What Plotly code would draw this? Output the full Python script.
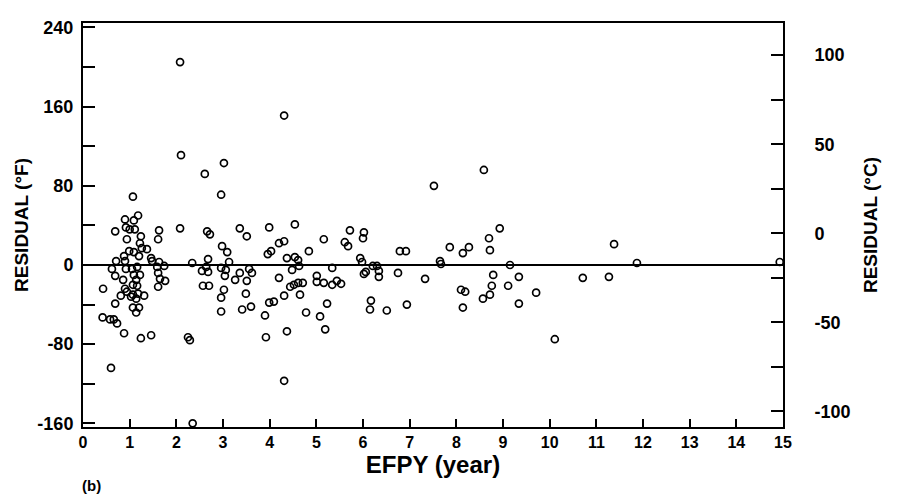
import plotly.graph_objects as go

# EFPY (year) and residual (deg F)
efpy = [
    2.10, 2.61, 1.07, 1.18, 0.90, 1.09, 0.69, 0.92, 1.00, 1.11, 1.63, 2.08, 2.66, 2.72,
    1.24, 0.94, 1.61, 1.22, 1.26, 1.37, 0.99, 1.09, 1.20, 0.88, 1.46, 1.48, 0.71, 0.90,
    1.63, 2.34, 2.68, 0.62, 0.92, 1.05, 1.16, 1.74, 1.59, 2.55, 2.68, 2.64, 0.69, 1.09,
    1.22, 1.61, 0.86, 1.14, 1.65, 1.76, 0.43, 1.07, 1.16, 0.90, 1.61, 2.57, 2.70, 0.94,
    1.07, 0.81, 1.18, 1.31, 1.03, 1.14, 0.69, 1.07, 1.20, 1.14, 0.42, 0.58, 0.66, 0.73,
    0.88, 1.24, 1.46, 2.25, 2.29, 0.60,
    4.31, 3.02, 2.96, 3.36, 3.51, 3.99, 4.54, 2.98, 3.09, 3.96, 4.03, 4.20, 4.31, 5.16,
    4.84, 5.61, 5.68, 5.72, 4.37, 4.54, 4.61, 5.94, 5.98, 3.13, 2.96, 3.06, 3.56, 4.63,
    4.48, 5.34, 3.04, 3.36, 3.62, 3.26, 3.51, 4.20, 5.01, 5.01, 5.16, 5.34, 5.44, 5.53,
    4.61, 4.71, 4.52, 4.44, 3.02, 2.96, 3.49, 4.31, 4.65, 2.96, 3.41, 3.60, 3.99, 4.09,
    4.78, 5.23, 3.90, 5.08, 5.19, 3.92, 4.37, 4.31, 2.08, 2.35,
    8.59, 7.52, 6.02, 6.00, 8.93, 6.79, 6.92, 7.86, 8.27, 8.14, 8.70, 8.72, 7.65, 7.67,
    6.21, 6.30, 6.34, 6.06, 6.02, 6.34, 6.75, 7.33, 8.79, 8.76, 8.10, 8.19, 8.72, 8.57,
    6.17, 6.15, 6.51, 6.94, 8.14,
    11.38, 11.87, 9.15, 9.34, 10.71, 11.27, 9.11, 9.71, 9.34, 10.11, 14.93,
]
residual_f = [
    111, 92, 69, 50, 46, 45, 34, 38, 36, 36, 35, 37, 34, 31,
    29, 26, 26, 22, 17, 16, 14, 13, 9, 9, 7, 4, 4, 4,
    3, 2, 6, -4, -4, -4, -2, -1, -2, -6, -7, -2, -11, -10,
    -10, -8, -15, -15, -14, -16, -24, -20, -21, -24, -22, -21, -21, -27,
    -30, -31, -29, -31, -32, -34, -39, -43, -43, -48, -53, -55, -55, -59,
    -69, -74, -71, -73, -76, -104,
    151, 103, 71, 37, 29, 38, 41, 19, 13, 11, 14, 22, 24, 26,
    14, 23, 19, 35, 7, 8, 5, 7, 3, 3, -3, -5, -4, -1,
    -5, -3, -11, -8, -8, -15, -16, -13, -11, -17, -18, -20, -16, -19,
    -18, -18, -20, -22, -25, -33, -29, -31, -30, -47, -45, -42, -38, -37,
    -48, -39, -51, -52, -65, -73, -67, -117, 205, -160,
    96, 80, 33, 27, 37, 14, 14, 18, 18, 12, 27, 15, 4, 1,
    -1, -1, -6, -7, -9, -12, -8, -14, -10, -21, -25, -27, -30, -34,
    -36, -45, -46, -40, -43,
    21, 2, 0, -12, -13, -12, -21, -28, -39, -75, 3,
]
residual_c = [(f - 32) / 1.8 for f in residual_f]

f_ticks = [-160, -120, -80, -40, 0, 40, 80, 120, 160, 200, 240]
f_labels = ["-160", "", "-80", "", "0", "", "80", "", "160", "", "240"]
c_ticks = [-100, -75, -50, -25, 0, 25, 50, 75, 100]
c_labels = ["-100", "", "-50", "", "0", "", "50", "", "100"]
x_ticks = list(range(0, 16))

f_range = [-163.7, 244.5]
c_range = [(v - 32) / 1.8 for v in f_range]

FONT = "Liberation Sans"
ytickfont = dict(family=FONT, size=18, color="black", weight="bold")
xtickfont = dict(family=FONT, size=16, color="black", weight="bold")

fig = go.Figure()
fig.add_trace(go.Scatter(
    x=efpy, y=residual_f, mode="markers",
    marker=dict(symbol="circle-open", size=7, color="black", line=dict(width=1.7, color="black")),
    showlegend=False, hoverinfo="x+y",
))
fig.add_trace(go.Scatter(
    x=efpy, y=residual_c, mode="markers", yaxis="y2",
    marker=dict(size=1, opacity=0), showlegend=False, hoverinfo="skip",
))

# page body has an 8px default margin: figure is 8px smaller so it fills the window
fig.update_layout(
    width=889, height=488,
    margin=dict(l=75, r=114, t=10, b=69),
    paper_bgcolor="white", plot_bgcolor="white",
    xaxis=dict(
        range=[0, 15], tickvals=x_ticks, ticks="inside", ticklen=8, tickwidth=1.5,
        tickcolor="black", showline=True, linewidth=2, linecolor="black", mirror=True,
        showgrid=False, zeroline=False, tickfont=xtickfont,
        title=dict(text="EFPY (year)", font=dict(family=FONT, size=24, color="black", weight="bold"),
                   standoff=2),
    ),
    yaxis=dict(
        range=f_range, tickvals=f_ticks, ticktext=f_labels, ticks="inside", ticklen=12,
        tickwidth=1.5, tickcolor="black", showline=True, linewidth=2, linecolor="black",
        showgrid=False, zeroline=True, zerolinecolor="black", zerolinewidth=1.5,
        tickfont=ytickfont, ticklabelstandoff=4,
        title=dict(text="RESIDUAL (°F)", font=dict(family=FONT, size=19, color="black", weight="bold"),
                   standoff=4),
    ),
    yaxis2=dict(
        range=c_range, overlaying="y", side="right", tickvals=c_ticks, ticktext=c_labels,
        ticks="inside", ticklen=12, tickwidth=1.5, tickcolor="black", showline=True,
        linewidth=2, linecolor="black", showgrid=False, zeroline=False,
        tickfont=ytickfont, ticklabelstandoff=26,
        title=dict(text="RESIDUAL (°C)", font=dict(family=FONT, size=19, color="black", weight="bold"),
                   standoff=14),
    ),
    annotations=[dict(
        text="(b)", xref="paper", yref="paper", x=0.012, y=-0.17, showarrow=False,
        xanchor="center",
        font=dict(family=FONT, size=15, color="black", weight="bold"),
    )],
)

fig.write_html("out.html")
